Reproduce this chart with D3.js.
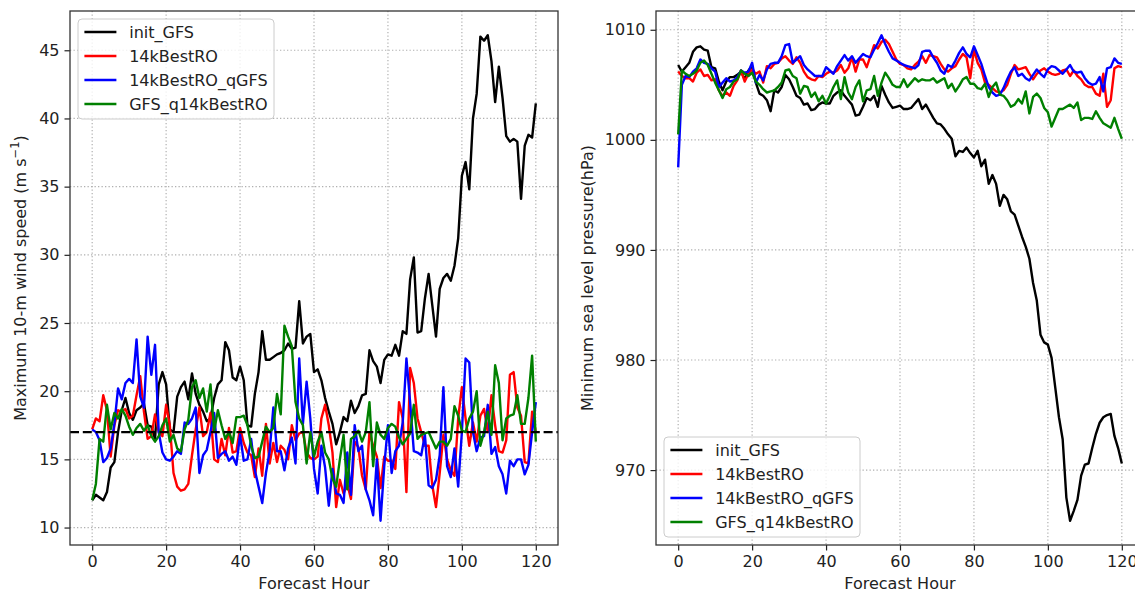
<!DOCTYPE html>
<html>

<head>
    <meta charset="utf-8">
    <title>Wind-MSLP</title>
    <script src="https://cdn.jsdelivr.net/npm/d3@7"></script>
    <style>
        body {
            margin: 0;
            background-color: #ffffff;
        }

        text {
            font-family: 'DejaVu Sans', sans-serif;
        }
    </style>
</head>

<body>
    <svg width="1135" height="592" id="mainsvg" style="display: block;"></svg>
    <script>
        // forecast hours 0..120
        const hours = d3.range(0, 121);
        const seriesNames = ['init_GFS', '14kBestRO', '14kBestRO_qGFS', 'GFS_q14kBestRO'];
        const seriesColors = ['black', 'red', 'blue', 'green'];

        const xTicks = [0, 20, 40, 60, 80, 100, 120];
        const windTicks = [10, 15, 20, 25, 30, 35, 40, 45];
        const mslpTicks = [970, 980, 990, 1000, 1010];
        const windThreshold = 17;

        // maximum 10-m wind speed (m/s)
        const windInitGFS = [
            12.0, 12.4, 12.2, 12.0, 12.6, 14.4, 14.8, 17.0, 18.6, 19.5,
            18.4, 17.9, 18.6, 18.8, 19.1, 17.5, 17.4, 16.5, 20.5, 21.4,
            20.5, 17.2, 17.0, 19.6, 20.3, 20.7, 19.4, 21.3, 19.8, 19.0,
            18.5, 17.8, 18.0, 19.5, 20.5, 20.8, 23.6, 23.0, 21.0, 20.8,
            21.8, 20.8, 17.5, 17.4, 19.8, 21.4, 24.4, 22.3, 22.3, 22.5,
            22.7, 22.8, 23.0, 23.5, 23.1, 23.2, 26.6, 23.5, 24.0, 24.2,
            21.4, 21.6, 20.8, 19.5, 18.5, 17.6, 16.1, 17.0, 18.1, 17.8,
            19.3, 18.4, 18.9, 19.7, 19.8, 23.0, 22.2, 21.8, 20.6, 22.3,
            22.7, 22.6, 23.4, 22.6, 24.4, 24.2, 28.2, 29.8, 24.3, 24.4,
            26.8, 28.6, 26.3, 24.0, 27.5, 28.3, 28.6, 28.1, 29.2, 31.2,
            35.8, 36.8, 34.8, 40.0, 41.8, 46.0, 45.7, 46.1, 44.2, 41.2,
            43.8, 41.5, 38.7, 38.3, 38.5, 38.3, 34.1, 38.0, 38.8, 38.6,
            41.1
        ];
        const wind14kBestRO = [
            17.2, 18.0, 17.8, 19.7, 18.6, 15.2, 17.5, 18.6, 18.5, 18.7,
            18.0, 18.2, 19.7, 21.1, 18.5, 16.5, 16.7, 18.3, 17.0, 16.7,
            19.0, 17.5, 14.0, 13.0, 12.7, 12.8, 13.2, 15.3, 17.2, 18.8,
            16.7, 17.0, 18.4, 15.0, 14.8, 16.5, 15.3, 17.3, 15.5, 15.6,
            17.3, 16.2, 15.5, 15.3, 13.7, 15.8, 13.8, 17.6, 14.7, 16.2,
            14.8, 16.0, 15.7, 15.0, 17.5, 16.4, 16.9, 17.0, 15.5, 15.1,
            15.0, 15.2, 18.0, 19.0, 17.5, 15.5, 11.5, 13.5, 12.5, 13.2,
            12.1, 16.3, 15.9, 13.8, 12.8, 17.0, 16.0, 15.2, 12.9, 15.2,
            14.9, 14.9, 14.3, 19.2, 18.0, 12.6, 21.7, 20.6, 18.0, 17.0,
            16.0, 16.0, 13.1, 11.5, 14.0, 16.8, 15.0, 14.2, 13.8, 18.0,
            20.3, 18.0, 16.0, 17.7, 16.3, 18.2, 18.7, 17.0, 19.7, 17.5,
            15.6, 15.5, 16.4, 21.2, 21.4, 18.8, 18.2, 14.8, 14.7, 18.5,
            17.0
        ];
        const wind14kBestROqGFS = [
            17.2, 17.0, 16.4, 14.8, 15.1, 15.8, 17.6, 20.2, 19.4, 20.6,
            20.9, 20.6, 23.8, 19.6, 18.8, 24.0, 21.2, 23.4, 17.0, 15.5,
            15.0, 14.9, 15.2, 15.6, 15.4, 17.7, 17.6, 18.0, 18.8, 14.0,
            15.3, 15.7, 17.0, 18.4, 15.1, 15.4, 15.6, 14.9, 15.2, 14.6,
            16.8, 14.9, 15.0, 16.5, 14.2, 13.0, 11.8, 14.0, 15.6, 18.8,
            15.6, 15.6, 14.2, 15.8, 16.6, 14.7, 22.4, 17.6, 20.7, 18.0,
            14.3, 12.5, 16.0, 14.4, 11.6, 14.3, 12.5, 12.4, 11.8, 15.5,
            12.4, 17.5, 15.6, 16.0, 12.8, 12.0, 10.9, 15.0, 10.5, 14.5,
            17.5, 14.0, 15.6, 16.0, 17.7, 22.4, 19.2, 15.6, 15.5, 15.3,
            16.8, 13.1, 12.9, 13.5, 15.3, 20.3, 14.5, 13.7, 15.8, 13.0,
            17.0, 22.4, 22.1, 17.0, 15.6, 16.6, 16.7, 19.0, 15.4, 15.9,
            14.5, 13.9, 12.5, 14.9, 14.5, 15.0, 15.0, 13.9, 14.6, 17.0,
            19.2
        ];
        const windGFSq14kBestRO = [
            12.0, 13.2, 16.5, 16.3, 19.0, 17.2, 18.4, 18.0, 18.7, 18.2,
            17.4, 16.8, 17.3, 17.6, 17.1, 17.5, 16.7, 16.3, 16.7, 17.5,
            18.0, 16.3, 16.8, 15.8, 15.6, 17.2, 17.9, 20.3, 20.8, 19.5,
            20.2, 18.5, 20.5, 17.1, 18.6, 17.5, 16.5, 17.0, 16.2, 18.1,
            18.1, 18.2, 17.5, 16.0, 15.1, 15.2, 16.3, 17.4, 17.0, 17.3,
            19.8, 18.3, 24.8, 24.0, 23.3, 19.2, 18.0, 17.5, 14.7, 17.0,
            15.2, 16.3, 17.0, 15.5, 15.0, 13.6, 13.0, 15.0, 16.8, 12.8,
            16.5, 16.7, 17.1, 16.3, 17.0, 19.2, 14.5, 17.7, 16.8, 16.5,
            17.3, 17.6, 17.4, 16.6, 16.1, 16.5, 16.9, 19.0, 16.5, 16.8,
            16.9, 17.0, 16.4, 15.8, 16.3, 16.3, 16.0, 16.5, 18.9, 18.2,
            17.1, 17.0, 18.0, 18.5, 20.0, 16.0, 17.0, 18.5, 16.8, 21.9,
            20.6, 16.4, 18.0, 18.2, 18.3, 19.7, 17.6, 17.6, 19.5, 22.6,
            16.3
        ];

        // minimum sea level pressure (hPa)
        const mslpInitGFS = [
            1006.8, 1006.2, 1006.6, 1007.0, 1008.0, 1008.4, 1008.5, 1008.2, 1008.1, 1006.6,
            1006.5, 1005.3, 1004.5, 1005.3, 1005.7, 1005.7, 1005.9, 1006.2, 1005.5, 1006.3,
            1006.7, 1005.2, 1004.2, 1004.0, 1003.6, 1002.6, 1004.5, 1004.3, 1004.8, 1005.9,
            1005.5, 1004.8, 1004.0, 1003.8, 1003.2, 1003.3, 1002.7, 1002.8, 1003.2, 1003.4,
            1003.3, 1003.3, 1004.0, 1004.3, 1004.5, 1004.0, 1003.6, 1003.2, 1002.2, 1002.3,
            1003.0, 1003.8, 1003.6, 1004.0, 1003.0, 1004.9, 1004.1, 1003.4, 1002.9, 1003.0,
            1003.1, 1002.8, 1002.8, 1002.9, 1003.3, 1003.7, 1002.8, 1003.2, 1002.6, 1002.0,
            1001.5, 1001.4, 1001.0, 1000.5, 1000.1, 998.5, 999.0, 998.9, 999.3, 998.8,
            998.4, 999.0, 997.6, 998.2, 996.0, 996.8, 996.0, 994.0, 995.0, 994.6,
            993.5, 993.2, 992.2, 991.2, 990.3, 989.2, 987.0, 985.4, 982.3, 981.6,
            981.4, 980.2, 977.5, 974.8, 972.8, 967.5, 965.4, 966.3, 967.3, 969.5,
            970.5, 970.6, 972.0, 973.3, 974.3, 974.8, 975.0, 975.1, 973.1, 972.0,
            970.6
        ];
        const mslp14kBestRO = [
            1006.2, 1005.8, 1005.6, 1005.6, 1005.3, 1006.1, 1006.4, 1005.8, 1005.9, 1005.4,
            1005.5, 1004.5, 1004.0, 1004.3, 1004.0, 1004.9, 1005.4, 1006.3, 1005.3, 1006.0,
            1006.4, 1006.0, 1006.2, 1005.2, 1006.7, 1006.5, 1006.9, 1007.0, 1007.4, 1007.6,
            1007.2, 1006.9, 1007.5, 1007.0, 1006.2, 1005.7, 1005.5, 1005.4, 1005.8, 1005.7,
            1006.0, 1006.2, 1006.1, 1006.3, 1006.8, 1006.1, 1006.5, 1007.5, 1006.2, 1007.3,
            1007.3, 1006.6, 1007.6, 1008.6, 1008.3, 1008.9, 1009.1, 1008.7, 1008.0, 1007.3,
            1006.9, 1006.8, 1006.5, 1006.4, 1006.8, 1007.1, 1007.6, 1007.0, 1007.7, 1007.6,
            1007.5, 1006.9, 1006.4, 1006.2, 1006.5, 1006.7, 1007.3, 1007.8, 1007.5, 1005.6,
            1008.2, 1007.0, 1006.4, 1005.2, 1005.0, 1004.7, 1004.4, 1004.3, 1004.5, 1005.0,
            1006.0, 1006.8, 1006.4, 1006.5, 1006.6, 1006.0, 1005.5, 1006.0, 1006.3, 1006.5,
            1006.2, 1006.0, 1005.9, 1006.0, 1006.3, 1006.4, 1005.8, 1006.3, 1005.8, 1005.5,
            1005.0, 1004.8, 1004.8, 1004.2, 1004.0, 1006.0, 1003.0, 1003.6, 1006.5, 1006.7,
            1006.6
        ];
        const mslp14kBestROqGFS = [
            997.5, 1005.0, 1005.8, 1005.7, 1006.2, 1006.5, 1007.3, 1007.0, 1006.9, 1006.5,
            1006.2, 1004.8, 1005.2, 1005.6, 1005.3, 1005.4, 1005.7, 1006.3, 1006.1, 1006.2,
            1007.0, 1005.2, 1005.9, 1005.4, 1006.4, 1006.9, 1007.0, 1007.0, 1007.6, 1008.6,
            1008.7, 1007.0, 1007.3, 1007.6, 1006.8, 1006.4, 1006.1, 1005.8, 1005.8, 1005.8,
            1006.6, 1006.3, 1006.0, 1006.7, 1007.2, 1007.7, 1007.2, 1007.6, 1007.0, 1007.4,
            1007.8, 1007.6, 1007.5, 1008.2, 1008.8, 1009.5, 1008.7, 1008.0, 1007.4, 1007.2,
            1007.0, 1006.8, 1006.7, 1006.6, 1006.5, 1006.8, 1008.0, 1008.1, 1008.1, 1007.5,
            1007.0, 1006.3, 1006.0, 1006.8, 1006.6, 1007.2, 1007.9, 1008.4, 1007.8, 1007.5,
            1008.5, 1007.7, 1006.9, 1005.8, 1004.8, 1004.3, 1004.0, 1004.1, 1004.7, 1005.5,
            1006.2, 1006.6, 1005.8, 1006.0, 1005.6, 1005.4, 1005.9, 1006.4, 1006.0, 1005.7,
            1006.4, 1006.7, 1006.6, 1006.3, 1006.0, 1006.4, 1006.8, 1006.2, 1006.1, 1006.2,
            1005.6, 1005.2, 1005.0, 1005.1, 1005.7, 1004.4, 1006.5, 1006.6, 1007.4, 1007.0,
            1006.9
        ];
        const mslpGFSq14kBestRO = [
            1000.5, 1006.3, 1006.0, 1005.8, 1006.0, 1006.3, 1007.0, 1007.2, 1006.8, 1006.0,
            1005.2, 1004.5, 1003.8, 1004.6, 1004.8, 1005.3, 1005.5, 1006.3, 1006.0, 1005.8,
            1006.1, 1005.3, 1005.0, 1004.6, 1004.3, 1004.4, 1004.5, 1004.8, 1005.2, 1006.3,
            1006.4, 1005.8, 1005.6, 1004.2, 1004.9, 1004.8, 1003.9, 1004.3, 1003.5, 1004.0,
            1003.3, 1004.0, 1004.8, 1005.4, 1003.7, 1005.7, 1004.3, 1003.7, 1004.8, 1005.4,
            1003.5, 1004.5, 1004.6, 1005.8, 1004.0, 1005.2, 1006.1, 1005.6, 1005.0, 1004.8,
            1004.8, 1005.5, 1004.8, 1005.2, 1005.6, 1005.3, 1005.5, 1005.4, 1005.4, 1005.6,
            1005.2, 1005.4, 1005.6, 1004.7, 1005.1, 1004.4, 1004.9, 1005.5, 1005.7, 1005.1,
            1005.1, 1004.7, 1004.6, 1005.1, 1003.9, 1004.8, 1005.2, 1004.1, 1004.0, 1003.6,
            1003.0, 1003.2, 1003.7, 1003.3, 1004.4, 1002.4, 1003.9, 1004.2, 1003.8, 1002.9,
            1002.5, 1001.2, 1002.0, 1002.8, 1002.8, 1003.0, 1003.2, 1002.9, 1003.4, 1001.8,
            1002.0, 1002.0, 1001.9, 1002.6, 1002.0, 1001.5, 1001.3, 1001.1, 1002.0, 1001.0,
            1000.1
        ];

        const svg = d3.select('#mainsvg');
        const defs = svg.append('defs');
        const plotTop = 11, plotBottom = 545;
        const innerHeight = plotBottom - plotTop;
        const innerWidth = 488;
        const fontSize = 16;

        const renderPanel = function (opt) {
            const g = svg.append('g')
                .attr('transform', `translate(${opt.left}, ${plotTop})`);

            const xScale = d3.scaleLinear()
                .domain([-6, 126])
                .range([0, innerWidth]);

            // matplotlib-like autoscale: data extent with 5% margins
            const all = opt.series.flat();
            const lo = d3.min(all), hi = d3.max(all);
            const pad = (hi - lo) * 0.05;
            const yScale = d3.scaleLinear()
                .domain([lo - pad, hi + pad])
                .range([innerHeight, 0]);

            // clip region in user space of the panel group
            const clipId = 'clip-' + opt.id;
            defs.append('clipPath').attr('id', clipId)
                .append('rect').attr('width', innerWidth).attr('height', innerHeight);

            // dotted grid
            const grid = g.append('g').attr('stroke', '#b0b0b0').attr('stroke-width', 1.2)
                .attr('stroke-dasharray', '1.3,2.2');
            grid.selectAll('.vgrid').data(xTicks).join('line')
                .attr('x1', d => xScale(d)).attr('x2', d => xScale(d))
                .attr('y1', 0).attr('y2', innerHeight);
            grid.selectAll('.hgrid').data(opt.yTicks).join('line')
                .attr('y1', d => yScale(d)).attr('y2', d => yScale(d))
                .attr('x1', 0).attr('x2', innerWidth);

            // series lines
            const line = d3.line()
                .x((d, i) => xScale(hours[i]))
                .y(d => yScale(d));
            const lines = g.append('g').attr('clip-path', `url(#${clipId})`);
            opt.series.forEach((s, i) => {
                lines.append('path')
                    .attr('d', line(s))
                    .attr('fill', 'none')
                    .attr('stroke', seriesColors[i])
                    .attr('stroke-width', 2.4)
                    .attr('stroke-linejoin', 'round');
            });

            if (opt.threshold !== undefined) {
                lines.append('line')
                    .attr('x1', 0).attr('x2', innerWidth)
                    .attr('y1', yScale(opt.threshold)).attr('y2', yScale(opt.threshold))
                    .attr('stroke', 'black')
                    .attr('stroke-width', 2.4)
                    .attr('stroke-dasharray', '9,3.8');
            }

            // axes
            const xAxis = d3.axisBottom(xScale).tickValues(xTicks)
                .tickSizeInner(5.5).tickSizeOuter(0).tickPadding(5)
                .tickFormat(d3.format('d'));
            const yAxis = d3.axisLeft(yScale).tickValues(opt.yTicks)
                .tickSizeInner(5.5).tickSizeOuter(0).tickPadding(5)
                .tickFormat(d3.format('d'));

            const xAxisGroup = g.append('g').call(xAxis)
                .attr('transform', `translate(0, ${innerHeight})`);
            const yAxisGroup = g.append('g').call(yAxis);
            [xAxisGroup, yAxisGroup].forEach(a => {
                a.attr('font-size', fontSize).attr('font-family', 'DejaVu Sans, sans-serif');
                a.select('.domain').remove();
                a.selectAll('.tick line').attr('stroke', '#222').attr('stroke-width', 1.2);
                a.selectAll('.tick text').attr('fill', '#222');
            });

            // frame
            g.append('rect')
                .attr('width', innerWidth).attr('height', innerHeight)
                .attr('fill', 'none').attr('stroke', '#333').attr('stroke-width', 1.3);

            // axis labels
            g.append('text')
                .attr('x', innerWidth / 2).attr('y', 589 - plotTop)
                .attr('text-anchor', 'middle')
                .attr('font-size', fontSize).attr('fill', '#222')
                .text('Forecast Hour');

            const ylab = g.append('text')
                .attr('transform', `translate(${opt.yLabelX - opt.left}, ${innerHeight / 2}) rotate(-90)`)
                .attr('text-anchor', 'middle')
                .attr('font-size', fontSize).attr('fill', '#222');
            opt.yLabel(ylab);

            // legend
            const lg = g.append('g')
                .attr('transform', `translate(8, ${opt.legendTop})`);
            lg.append('rect')
                .attr('width', 196).attr('height', 100).attr('rx', 4)
                .attr('fill', 'white').attr('fill-opacity', 0.8)
                .attr('stroke', '#cccccc').attr('stroke-width', 1);
            const item = lg.selectAll('.legend').data(seriesNames).join('g')
                .attr('class', 'legend')
                .attr('transform', (d, i) => `translate(0, ${13 + i * 24})`);
            item.append('line')
                .attr('x1', 6.4).attr('x2', 38.4)
                .attr('stroke', (d, i) => seriesColors[i])
                .attr('stroke-width', 2.4);
            item.append('text')
                .attr('x', 51.2).attr('dy', '0.35em')
                .attr('font-size', fontSize).attr('fill', '#222')
                .text(d => d);
        };

        renderPanel({
            id: 'wind',
            left: 70,
            series: [windInitGFS, wind14kBestRO, wind14kBestROqGFS, windGFSq14kBestRO],
            yTicks: windTicks,
            threshold: windThreshold,
            legendTop: 8,
            yLabelX: 25.5,
            yLabel: t => {
                t.append('tspan').text('Maximum 10-m wind speed (m s');
                t.append('tspan').attr('font-size', 11.5).attr('dy', -6.5).text('\u22121');
                t.append('tspan').attr('dy', 6.5).text(')');
            }
        });

        renderPanel({
            id: 'mslp',
            left: 656,
            series: [mslpInitGFS, mslp14kBestRO, mslp14kBestROqGFS, mslpGFSq14kBestRO],
            yTicks: mslpTicks,
            legendTop: innerHeight - 8 - 100,
            yLabelX: 593,
            yLabel: t => t.text('Minimum sea level pressure(hPa)')
        });
    </script>

</body>

</html>
